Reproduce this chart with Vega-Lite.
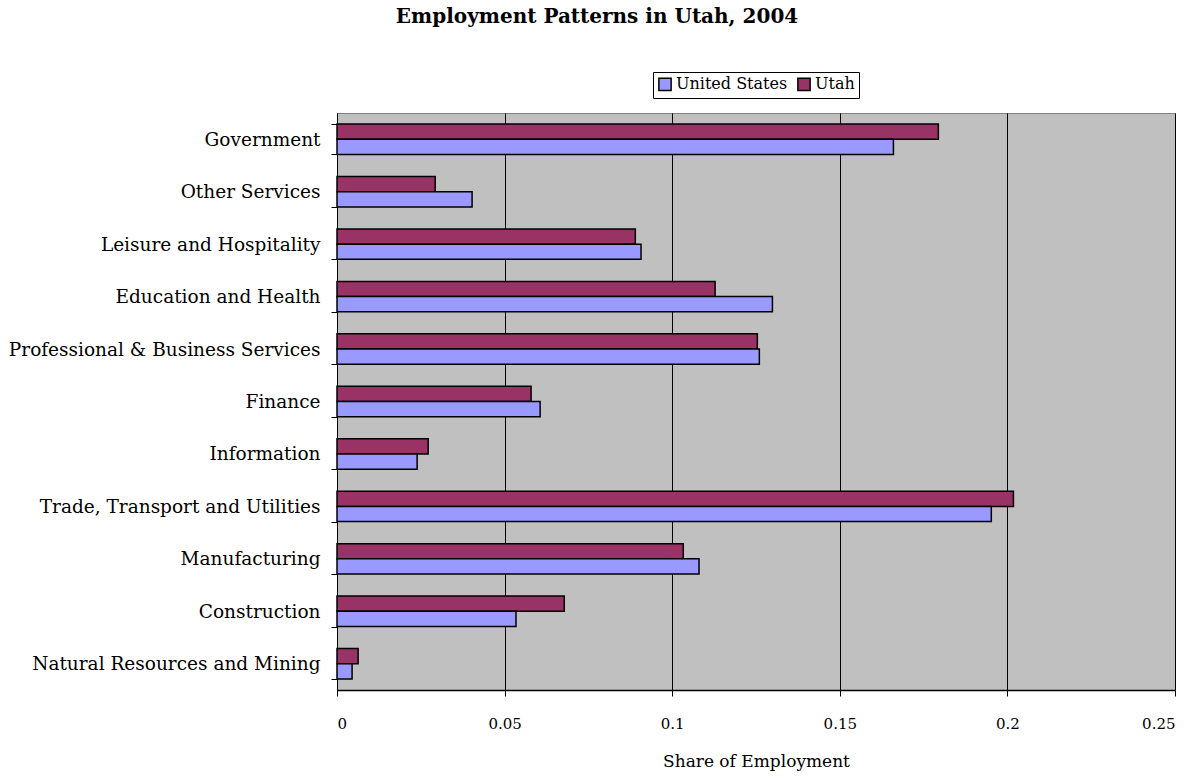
{
  "$schema": "https://vega.github.io/schema/vega-lite/v6.json",
  "autosize": {"type": "none"},
  "padding": {"left": 337, "top": 113, "right": 19, "bottom": 88},
  "width": 838,
  "height": 577,
  "background": "white",
  "config": {
    "font": "DejaVu Serif",
    "view": {"fill": "#C0C0C0", "stroke": "#808080", "strokeWidth": 1}
  },
  "title": {
    "text": "Employment Patterns in Utah, 2004",
    "anchor": "middle",
    "frame": "group",
    "dx": -159,
    "offset": 45,
    "font": "DejaVu Serif",
    "fontSize": 20,
    "fontWeight": "bold",
    "color": "black"
  },
  "data": {
    "values": [
      {"sector": "Government", "series": "Utah", "share": 0.1794},
      {"sector": "Government", "series": "United States", "share": 0.1660},
      {"sector": "Other Services", "series": "Utah", "share": 0.0293},
      {"sector": "Other Services", "series": "United States", "share": 0.0403},
      {"sector": "Leisure and Hospitality", "series": "Utah", "share": 0.0890},
      {"sector": "Leisure and Hospitality", "series": "United States", "share": 0.0907},
      {"sector": "Education and Health", "series": "Utah", "share": 0.1128},
      {"sector": "Education and Health", "series": "United States", "share": 0.1299},
      {"sector": "Professional & Business Services", "series": "Utah", "share": 0.1254},
      {"sector": "Professional & Business Services", "series": "United States", "share": 0.1260},
      {"sector": "Finance", "series": "Utah", "share": 0.0579},
      {"sector": "Finance", "series": "United States", "share": 0.0606},
      {"sector": "Information", "series": "Utah", "share": 0.0272},
      {"sector": "Information", "series": "United States", "share": 0.0239},
      {"sector": "Trade, Transport and Utilities", "series": "Utah", "share": 0.2018},
      {"sector": "Trade, Transport and Utilities", "series": "United States", "share": 0.1952},
      {"sector": "Manufacturing", "series": "Utah", "share": 0.1033},
      {"sector": "Manufacturing", "series": "United States", "share": 0.1080},
      {"sector": "Construction", "series": "Utah", "share": 0.0678},
      {"sector": "Construction", "series": "United States", "share": 0.0534},
      {"sector": "Natural Resources and Mining", "series": "Utah", "share": 0.0063},
      {"sector": "Natural Resources and Mining", "series": "United States", "share": 0.0045}
    ]
  },
  "mark": {"type": "bar", "stroke": "black", "strokeWidth": 1.5},
  "encoding": {
    "y": {
      "field": "sector",
      "type": "nominal",
      "sort": null,
      "scale": {"paddingInner": 0.42, "paddingOuter": 0.21},
      "axis": {
        "title": null,
        "tickBand": "extent",
        "tickSize": 6,
        "tickColor": "black",
        "domainColor": "black",
        "labelPadding": 11,
        "labelFontSize": 18.5,
        "labelColor": "black",
        "labelFont": "DejaVu Serif",
        "labelLimit": 400
      }
    },
    "yOffset": {
      "field": "series",
      "type": "nominal",
      "scale": {"domain": ["Utah", "United States"], "paddingInner": 0, "paddingOuter": 0}
    },
    "x": {
      "field": "share",
      "type": "quantitative",
      "scale": {"domain": [0, 0.25], "nice": false},
      "axis": {
        "title": "Share of Employment",
        "titleFont": "DejaVu Serif",
        "titleFontSize": 17,
        "titleFontWeight": "normal",
        "titleColor": "black",
        "titlePadding": 22,
        "values": [0, 0.05, 0.1, 0.15, 0.2, 0.25],
        "format": "~g",
        "grid": true,
        "gridColor": "black",
        "gridOpacity": 1,
        "gridWidth": 1,
        "tickSize": 6,
        "tickColor": "black",
        "domainColor": "black",
        "domainWidth": 1.5,
        "labelPadding": 20,
        "labelFontSize": 15,
        "labelColor": "black",
        "labelFont": "DejaVu Serif"
      }
    },
    "color": {
      "field": "series",
      "type": "nominal",
      "scale": {"domain": ["United States", "Utah"], "range": ["#9999FF", "#993366"]},
      "legend": {
        "title": null,
        "orient": "none",
        "legendX": 316,
        "legendY": -41,
        "direction": "horizontal",
        "strokeColor": "black",
        "fillColor": "white",
        "padding": 4,
        "symbolType": "square",
        "symbolSize": 150,
        "symbolStrokeColor": "black",
        "symbolStrokeWidth": 1.5,
        "symbolOpacity": 1,
        "labelFontSize": 16,
        "labelFont": "DejaVu Serif",
        "labelColor": "black",
        "labelOffset": 3,
        "columnPadding": 6
      }
    }
  }
}
